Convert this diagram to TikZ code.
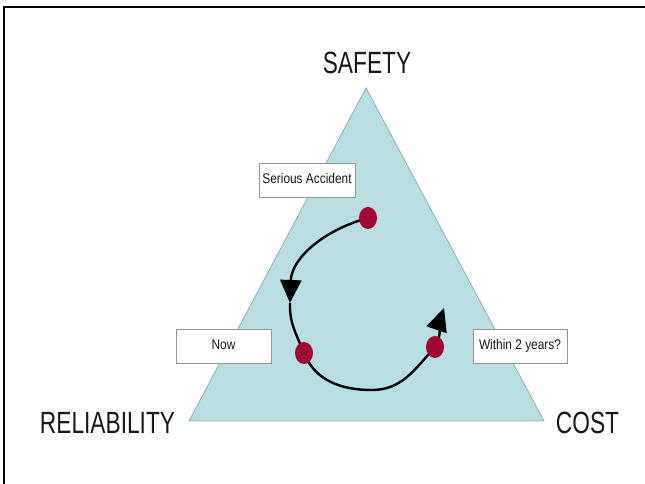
\documentclass[tikz,border=0pt]{standalone}
\usepackage{fontspec}
\setmainfont{Liberation Sans}
\newfontfamily\axisfont[FakeStretch=0.74]{Liberation Sans}
\newfontfamily\notefont[FakeStretch=0.85]{Liberation Sans}
\usetikzlibrary{arrows.meta,shapes.geometric}

\definecolor{trifill}{RGB}{185,222,226}
\definecolor{triedge}{RGB}{140,176,180}
\definecolor{dotred}{RGB}{160,10,50}
\definecolor{boxedge}{RGB}{150,150,150}
\definecolor{ink}{RGB}{25,25,25}

\begin{document}
\begin{tikzpicture}[x=1pt,y=1pt,
  axislabel/.style={font=\axisfont\fontsize{30.7}{32}\selectfont, text=ink, inner sep=0pt, anchor=base},
  notebox/.style={draw=boxedge, line width=0.8pt, fill=white, minimum height=34pt,
    font=\notefont\fontsize{14}{16}\selectfont, text=ink, inner sep=0pt,
    text height=1.5ex, text depth=.25ex},
  statedot/.style={ellipse, fill=dotred, minimum width=18pt, minimum height=22pt, inner sep=0pt},
  loopline/.style={line width=2.4pt, black},
  tipped/.style={-{Triangle[width=21pt,length=23pt]}}
]
\useasboundingbox (0,0) rectangle (645,484);

% page frame (top and left edges)
\draw[line width=1.2pt] (645,477) -- (4,477) -- (4,0);

% the trade-off triangle
\coordinate (apex) at (366,396);
\coordinate (bl) at (189,63);
\coordinate (br) at (544,63);
\draw[fill=trifill, draw=triedge, line width=0.8pt] (apex) -- (br) -- (bl) -- cycle;

% corner labels
\node[axislabel] (safety) at (367,410) {SAFETY};
\node[axislabel] (reliability) at (107.5,50) {RELIABILITY};
\node[axislabel] (cost) at (587.5,50) {COST};

% positions along the cycle
\coordinate (p1) at (368,266);
\coordinate (p2) at (304,131);
\coordinate (p3) at (435,137);
\coordinate (mid) at (290,181);
\coordinate (low) at (372,94);
\coordinate (tipend) at (444,176);

% the cycle
\draw[loopline, tipped] (p1) to[out=195,in=88] (mid);
\draw[loopline] (mid) to[out=268,in=112] (p2) to[out=292,in=180] (low) to[out=0,in=228] (p3);
\draw[loopline, tipped] (p3) to[out=60,in=251] (tipend);

% states
\node[statedot] (d1) at (p1) {};
\node[statedot] (d2) at (p2) {};
\node[statedot] (d3) at (p3) {};

% state notes
\node[notebox, minimum width=96pt] (accident) at (307,304) {Serious Accident};
\node[notebox, minimum width=95pt] (now) at (223.5,138) {Now};
\node[notebox, minimum width=94pt] (future) at (520,138) {Within 2 years?};
\end{tikzpicture}
\end{document}
